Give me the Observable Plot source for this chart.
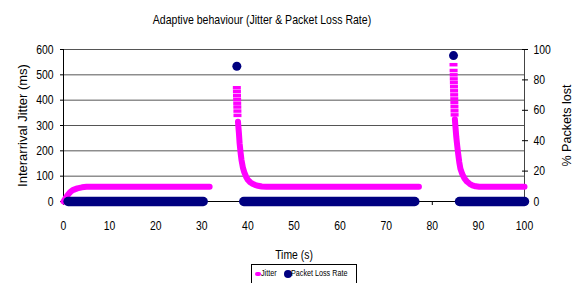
<!DOCTYPE html>
<html><head><meta charset="utf-8">
<script src="https://cdn.jsdelivr.net/npm/d3@7"></script>
<script src="https://cdn.jsdelivr.net/npm/@observablehq/plot@0.6"></script>
<style>
body{margin:0;background:#fff;width:578px;height:283px;overflow:hidden;position:relative;font-family:"Liberation Sans",Arial,sans-serif;color:#000;}
#title{position:absolute;left:0;top:11px;width:524px;text-align:center;font-size:13.5px;line-height:17px;transform:scaleX(0.78);transform-origin:262px 0;}
#chart{position:absolute;left:0;top:30px;}
#legend{position:absolute;left:251px;top:264px;width:106px;height:24px;border:1px solid #000;box-sizing:border-box;background:#fff;}
#legend .tx{position:absolute;top:3px;font-size:9px;line-height:10px;white-space:nowrap;transform:scaleX(0.8);transform-origin:0 0;}
#legend .sw{position:absolute;}
</style></head>
<body>
<div id="title"></div>
<div id="chart"></div>
<div id="legend"></div>
<script>
// ---- data ----
const chartTitle = "Adaptive behaviour (Jitter & Packet Loss Rate)";
const xLabel = "Time (s)";
const yLeftLabel = "Interarrival Jitter (ms)";
const yRightLabel = "% Packets lost";
const seriesNames = ["Jitter", "Packet Loss Rate"];

const xTicks = [0,10,20,30,40,50,60,70,80,90,100];
const jitterTicks = [0,100,200,300,400,500,600];
const lossTicks = [0,20,40,60,80,100];

// Jitter (ms) vs time (s); null separates the three runs
const jitterTime = [
  0,0.5,1,1.5,2,3,4,5,31.7, null,
  37.60,37.62,37.64,37.66,37.68,37.70,37.72,37.74,
  37.85,37.95,38.05,38.2,38.4,38.6,38.9,39.2,39.6,40.0,40.5,41.0,41.5,42.2,43.0,44.0,77.1, null,
  84.60,84.62,84.64,84.66,84.68,84.70,84.72,84.74,84.76,84.78,84.80,84.82,84.84,
  84.9,85.0,85.2,85.4,85.6,85.85,86.1,86.5,87.0,87.5,88.1,88.7,89.4,90.2,100
];
const jitterMs = [
  0,15,28,38,45,52,56,58,58, null,
  449,434,418,403,388,373,357,340,
  315,292,270,230,195,165,135,116,98,85,76,70,66,62,59,58,58, null,
  540,517,500,484,469,453,437,421,405,390,374,358,342,
  325,300,255,221,190,155,129,108,90,79,70,64,60,58,58
];

// Packet loss rate (%) vs time (s)
const lossTime = [1, 30.3, 37.6, 39.1, 76.2, 84.6, 85.9, 100];
const lossRate = [0, 0, 89, 0, 0, 96, 0, 0];

// ---- build ----
const MAGENTA = "#ff00ff", NAVY = "#000080";
const FONT = '"Liberation Sans",Arial,sans-serif';
document.getElementById("title").textContent = chartTitle;

const jitterRows = jitterTime.map((t, i) => ({t, v: jitterMs[i]}));
let run = 0;
const lossRows = lossTime.map((t, i) => {
  if (lossRate[i] !== 0) run++;
  const r = {t, rate: lossRate[i], run};
  if (lossRate[i] !== 0) run++;
  return r;
});
const yMax = jitterTicks[jitterTicks.length - 1];
const lossScale = yMax / lossTicks[lossTicks.length - 1];
const rightTicks = lossTicks.map(d => d * lossScale);

const dashSymbol = {draw(ctx) { ctx.rect(-4, -1.75, 8, 3.5); }};

const plot = Plot.plot({
  width: 578, height: 228,
  marginTop: 19, marginBottom: 57, marginLeft: 63, marginRight: 54,
  style: {fontFamily: FONT, fontSize: "13px", color: "#000", background: "transparent", overflow: "visible"},
  x: {domain: [0, 100]},
  y: {domain: [0, yMax]},
  marks: [
    Plot.gridY(jitterTicks.filter(d => d > 0), {stroke: "#555", strokeOpacity: 1}),
    Plot.ruleX([100], {stroke: "#444"}),
    Plot.ruleX([0], {stroke: "#000"}),
    Plot.ruleY([0], {stroke: "#000"}),
    Plot.axisX({ticks: xTicks, tickSize: 4, tickPadding: 15, label: null, tickFormat: d => String(d)}),
    Plot.axisY({ticks: jitterTicks, tickSize: 3, tickPadding: 7, label: null, tickFormat: d => String(d)}),
    Plot.axisY({anchor: "right", ticks: rightTicks, tickSize: 6, dx: -3, label: null, tickFormat: () => ""}),
    Plot.axisY({anchor: "right", ticks: rightTicks, tickSize: 0, tickPadding: 9, label: null, tickFormat: d => String(Math.round(d / lossScale))}),
    Plot.text([yLeftLabel], {text: d => d, frameAnchor: "left", rotate: -90, dx: -41, textAnchor: "middle", lineAnchor: "middle", fontSize: 13}),
    Plot.text([yRightLabel], {text: d => d, frameAnchor: "right", rotate: -90, dx: 42, textAnchor: "middle", lineAnchor: "middle", fontSize: 12.5}),
    Plot.text([xLabel], {text: d => d, frameAnchor: "bottom", dy: 53, textAnchor: "middle", lineAnchor: "middle", fontSize: 13}),
    // jitter
    Plot.line(jitterRows.filter(r => r.v == null || r.v < 335), {x: "t", y: "v", stroke: MAGENTA, strokeWidth: 6}),
    Plot.dot(jitterRows.filter(r => r.v != null && r.v >= 335), {x: "t", y: "v", symbol: dashSymbol, fill: MAGENTA, stroke: "none"}),
    // packet loss (scaled to the right axis)
    Plot.line(lossRows.filter(r => r.rate === 0), {x: "t", y: r => r.rate * lossScale, z: "run", stroke: NAVY, strokeWidth: 9.5}),
    Plot.dot(lossRows.filter(r => r.rate !== 0), {x: "t", y: r => r.rate * lossScale, r: 4.5, fill: NAVY, stroke: "none"})
  ]
});

// narrow (condensed) look for tick labels and the x title
function condense(t, s) {
  const tr = t.getAttribute("transform");
  if (tr && /^\s*translate/.test(tr) && !t.hasAttribute("x")) {
    t.setAttribute("transform", tr + ` scale(${s},1)`);
  } else {
    const x = +(t.getAttribute("x") || 0);
    t.setAttribute("transform", `translate(${x},0) scale(${s},1) translate(${-x},0) ` + (tr || ""));
  }
}
plot.querySelectorAll('g[aria-label$="tick label"] text').forEach(t => condense(t, 0.8));
plot.querySelectorAll('text').forEach(t => { if (t.textContent === xLabel) condense(t, 0.8); });
document.getElementById("chart").appendChild(plot);

const lg = document.getElementById("legend");
lg.innerHTML =
  `<span class="sw" style="left:3px;top:7px;width:6px;height:3.5px;background:${MAGENTA};border-radius:2px"></span>` +
  `<span class="tx" style="left:9px">${seriesNames[0]}</span>` +
  `<span class="sw" style="left:31.5px;top:4.5px;width:8px;height:8px;background:${NAVY};border-radius:50%"></span>` +
  `<span class="tx" style="left:39px">${seriesNames[1]}</span>`;
</script>
</body></html>
